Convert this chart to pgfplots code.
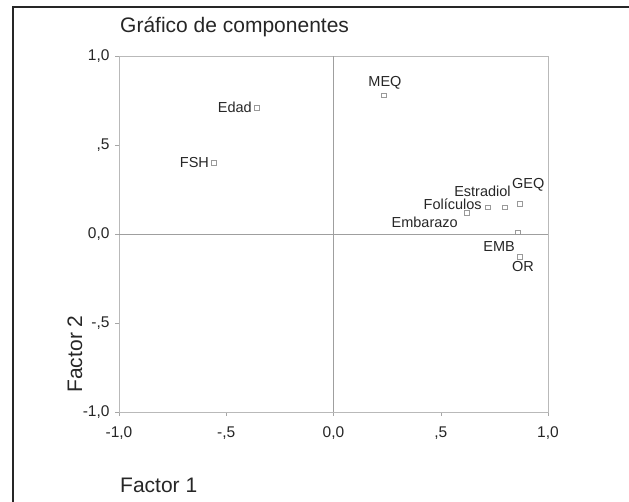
\documentclass[border=0pt]{standalone}
\usepackage{fontspec}
\setmainfont{Liberation Sans}
\usepackage{pgfplots}
\pgfplotsset{compat=1.18}
\begin{document}
\begin{tikzpicture}[x=1pt,y=1pt]
\useasboundingbox (0,0) rectangle (629,502);
\draw[line width=1.6pt, black!85] (13,0) -- (13,495) -- (629,495);
\begin{axis}[
  at={(119pt,90pt)}, anchor=south west, scale only axis,
  width=429pt, height=356pt,
  xmin=-1, xmax=1, ymin=-1, ymax=1,
  xtick={-1,-0.5,0,0.5,1}, ytick={-1,-0.5,0,0.5,1},
  xticklabels={{-1,0},{-,5},{0,0},{,5},{1,0}},
  yticklabels={{-1,0},{-,5},{0,0},{,5},{1,0}},
  axis line style={gray!55, line width=0.6pt},
  tick style={gray!70, line width=0.5pt},
  major tick length=4pt, tick align=outside, tick pos=left,
  ticklabel style={font=\fontsize{15.5}{18}\selectfont, text=black!85},
  xticklabel style={yshift=-7pt},
  yticklabel style={xshift=-2pt},
  /pgf/number format/assume math mode=true,
  clip=false,
]
\draw[gray!75, line width=0.5pt] (axis cs:0,-1) -- (axis cs:0,1);
\draw[gray!75, line width=0.5pt] (axis cs:-1,0) -- (axis cs:1,0);
\addplot[only marks, mark=square, mark size=2.4pt, mark options={draw=gray!80, line width=0.5pt}] coordinates {
  (-0.557,0.40) (-0.357,0.71) (0.235,0.78) (0.72,0.15) (0.80,0.15)
  (0.87,0.17) (0.62,0.12) (0.86,0.01) (0.87,-0.13)
};
\begin{scope}[every node/.style={font=\fontsize{14.5}{17}\selectfont, text=black!85, inner sep=0pt}]
\node[anchor=center] at (axis cs:0.24,0.848) {MEQ};
\node[anchor=east] at (axis cs:-0.38,0.713) {Edad};
\node[anchor=east] at (axis cs:-0.580,0.40) {FSH};
\node[anchor=east] at (axis cs:0.827,0.242) {Estradiol};
\node[anchor=west] at (axis cs:0.832,0.275) {GEQ};
\node[anchor=east] at (axis cs:0.692,0.166) {Folículos};
\node[anchor=east] at (axis cs:0.580,0.067) {Embarazo};
\node[anchor=east] at (axis cs:0.846,-0.073) {EMB};
\node[anchor=west] at (axis cs:0.832,-0.185) {OR};
\end{scope}
\end{axis}
\node[anchor=west, inner sep=0pt, font=\fontsize{21}{25}\selectfont, text=black!85] at (120,475) {Gráfico de componentes};
\node[anchor=west, inner sep=0pt, font=\fontsize{21}{25}\selectfont, text=black!85] at (120,17) {Factor 1};
\node[rotate=90, inner sep=0pt, font=\fontsize{21}{25}\selectfont, text=black!85] at (75,148) {Factor 2};
\end{tikzpicture}
\end{document}
